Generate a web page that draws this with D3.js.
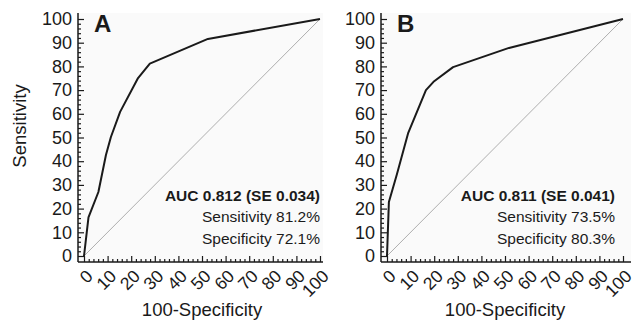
<!DOCTYPE html>
<html>
<head>
<meta charset="utf-8">
<script src="https://cdn.jsdelivr.net/npm/d3@7"></script>
<style>
  body { margin: 0; background: #fff; }
  svg { font-family: "Liberation Sans", Arial, sans-serif; }
</style>
</head>
<body>
<div id="chart"></div>
<script>
// ROC points (100-specificity, sensitivity)
var rocA_x = [0, 1.9, 6.1, 9.3, 11.4, 15.3, 22.9, 27.9, 52.5, 100];
var rocA_y = [0, 16.3, 27, 42.6, 50.2, 60.8, 75.1, 81.2, 91.6, 100];
var rocB_x = [0, 0.8, 4.2, 9, 16.5, 19.7, 28, 51.7, 100];
var rocB_y = [0, 22.8, 34.5, 52, 70, 73.5, 79.7, 87.8, 100];

var panelLabels = ["A", "B"];
var aucText = ["AUC 0.812 (SE 0.034)", "AUC 0.811 (SE 0.041)"];
var sensText = ["Sensitivity 81.2%", "Sensitivity 73.5%"];
var specText = ["Specificity 72.1%", "Specificity 80.3%"];

var majorTicks = d3.range(0, 101, 10);
var minorTicks = d3.range(0, 101, 2).filter(function(d) { return d % 10 != 0; });

var width = 636, height = 321;
var plotW = 236, plotH = 237;

var svg = d3.select("#chart").append("svg")
  .attr("width", width)
  .attr("height", height);

var x = d3.scaleLinear().domain([0, 100]).range([0, plotW]);
var y = d3.scaleLinear().domain([0, 100]).range([plotH, 0]);

function drawPanel(i, left, top, xs, ys, textRight, axisEnd) {
  var g = svg.append("g").attr("transform", "translate(" + left + "," + top + ")");

  // faint plot background
  g.append("rect")
    .attr("x", -6).attr("y", -6)
    .attr("width", axisEnd + 6).attr("height", plotH + 12)
    .attr("fill", "#fafafa");

  // diagonal reference line
  g.append("line")
    .attr("x1", x(0)).attr("y1", y(0))
    .attr("x2", x(100)).attr("y2", y(100))
    .attr("stroke", "#9a9a9a")
    .attr("stroke-width", 0.8);

  // ROC curve
  var pts = xs.map(function(d, j) { return [d, ys[j]]; });
  g.append("path")
    .datum(pts)
    .attr("fill", "none")
    .attr("stroke", "#1a1a1a")
    .attr("stroke-width", 2)
    .attr("stroke-linejoin", "round")
    .attr("d", d3.line()
      .x(function(d) { return x(d[0]); })
      .y(function(d) { return y(d[1]); }));

  // y axis
  var yMinor = g.append("g").attr("transform", "translate(-6,0)")
    .call(d3.axisLeft(y).tickValues(minorTicks).tickSize(-3).tickFormat(""));
  var yMajor = g.append("g").attr("transform", "translate(-6,0)")
    .call(d3.axisLeft(y).tickValues(majorTicks).tickSize(-6).tickPadding(6));
  yMinor.select(".domain").remove();
  yMajor.select(".domain").remove();
  yMajor.selectAll("text")
    .attr("font-size", 18)
    .attr("font-family", "Liberation Sans, Arial, sans-serif")
    .attr("fill", "#1a1a1a");

  // x axis
  var xMinor = g.append("g").attr("transform", "translate(0," + (plotH + 6) + ")")
    .call(d3.axisBottom(x).tickValues(minorTicks).tickSize(-3).tickFormat(""));
  var xMajor = g.append("g").attr("transform", "translate(0," + (plotH + 6) + ")")
    .call(d3.axisBottom(x).tickValues(majorTicks).tickSize(-6));
  xMinor.select(".domain").remove();
  xMajor.select(".domain").remove();
  xMajor.selectAll("text")
    .attr("font-size", 17.5)
    .attr("font-family", "Liberation Sans, Arial, sans-serif")
    .attr("fill", "#1a1a1a")
    .attr("text-anchor", "end")
    .attr("x", null).attr("y", null)
    .attr("dy", "0.35em")
    .attr("transform", "translate(5,11) rotate(-45)");

  g.selectAll(".tick line").attr("stroke", "#1a1a1a").attr("stroke-width", 1.2);

  // axis lines
  g.append("line")
    .attr("x1", -6).attr("y1", -6).attr("x2", -6).attr("y2", plotH + 6)
    .attr("stroke", "#1a1a1a").attr("stroke-width", 1.5);
  g.append("line")
    .attr("x1", -6).attr("y1", plotH + 6).attr("x2", axisEnd).attr("y2", plotH + 6)
    .attr("stroke", "#1a1a1a").attr("stroke-width", 1.5);

  // panel letter
  g.append("text")
    .attr("x", 10).attr("y", 13)
    .attr("font-size", 24).attr("font-weight", "bold")
    .attr("fill", "#1a1a1a")
    .text(panelLabels[i]);

  // stats
  var t = g.append("g").attr("text-anchor", "end").attr("font-size", 15.5).attr("fill", "#1a1a1a");
  t.append("text").attr("x", textRight).attr("y", 182)
    .attr("font-weight", "bold").text(aucText[i]);
  t.append("text").attr("x", textRight).attr("y", 203).text(sensText[i]);
  t.append("text").attr("x", textRight).attr("y", 225).text(specText[i]);

  // x title
  g.append("text")
    .attr("x", x(50)).attr("y", 297)
    .attr("text-anchor", "middle")
    .attr("font-size", 18.5).attr("fill", "#1a1a1a")
    .text("100-Specificity");
}

drawPanel(0, 84, 19, rocA_x, rocA_y, 236, 239);
drawPanel(1, 387, 19, rocB_x, rocB_y, 228, 244);

// y title
svg.append("text")
  .attr("transform", "translate(26,126) rotate(-90)")
  .attr("text-anchor", "middle")
  .attr("font-size", 18.5).attr("fill", "#1a1a1a")
  .text("Sensitivity");
</script>
</body>
</html>
